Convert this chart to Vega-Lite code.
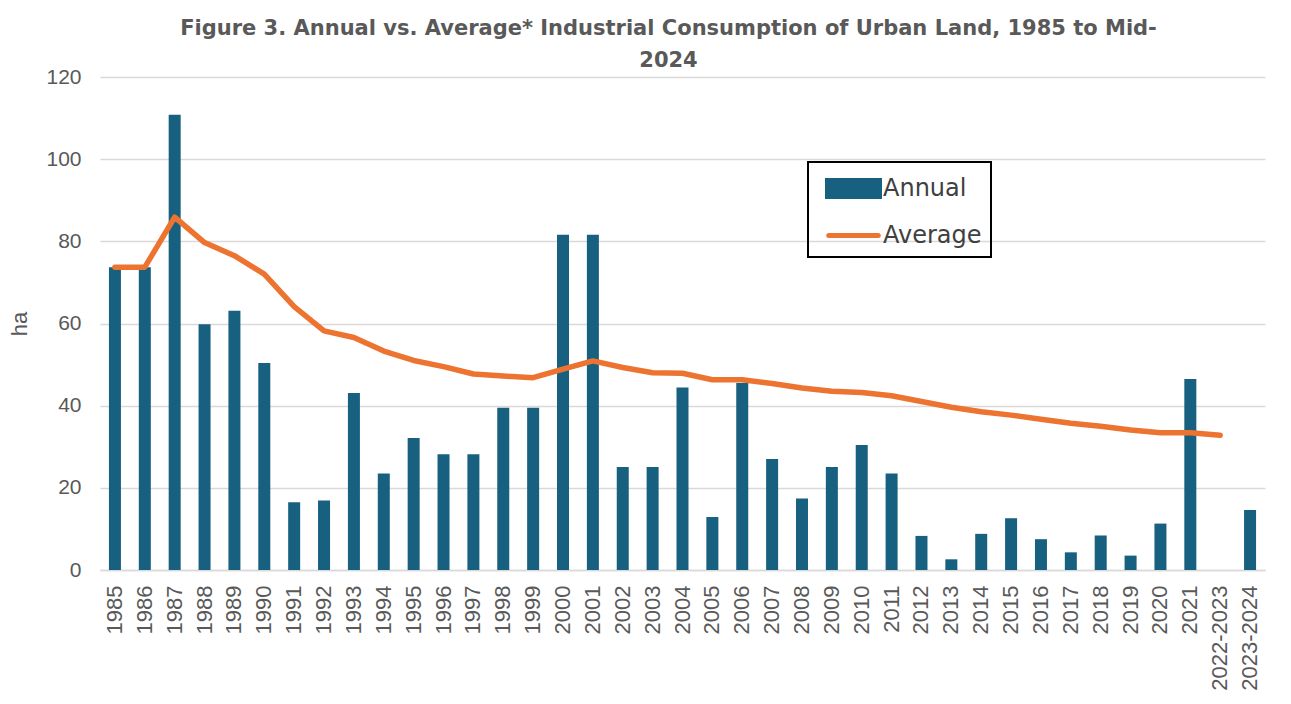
{
  "$schema": "https://vega.github.io/schema/vega-lite/v6.json",
  "width": 1165,
  "height": 493,
  "autosize": {"type": "none"},
  "padding": {"left": 100, "top": 77, "right": 26, "bottom": 134},
  "background": "white",
  "title": {
    "text": ["Figure 3. Annual vs. Average* Industrial Consumption of Urban Land, 1985 to Mid-", "2024"],
    "font": "DejaVu Sans",
    "fontSize": 21,
    "fontWeight": "bold",
    "color": "#595959",
    "anchor": "middle",
    "dx": -14,
    "offset": -5,
    "lineHeight": 32
  },
  "data": {
    "values": [
      {"year": "1985", "annual": 73.7, "average": 73.7},
      {"year": "1986", "annual": 73.7, "average": 73.7},
      {"year": "1987", "annual": 110.8, "average": 85.9},
      {"year": "1988", "annual": 59.8, "average": 79.7},
      {"year": "1989", "annual": 63.1, "average": 76.5},
      {"year": "1990", "annual": 50.4, "average": 72.0},
      {"year": "1991", "annual": 16.5, "average": 64.1},
      {"year": "1992", "annual": 16.9, "average": 58.2},
      {"year": "1993", "annual": 43.1, "average": 56.6},
      {"year": "1994", "annual": 23.5, "average": 53.3},
      {"year": "1995", "annual": 32.1, "average": 51.0},
      {"year": "1996", "annual": 28.2, "average": 49.5},
      {"year": "1997", "annual": 28.2, "average": 47.7},
      {"year": "1998", "annual": 39.5, "average": 47.2},
      {"year": "1999", "annual": 39.5, "average": 46.8},
      {"year": "2000", "annual": 81.6, "average": 48.9},
      {"year": "2001", "annual": 81.6, "average": 50.9},
      {"year": "2002", "annual": 25.1, "average": 49.3},
      {"year": "2003", "annual": 25.1, "average": 48.0},
      {"year": "2004", "annual": 44.4, "average": 47.9},
      {"year": "2005", "annual": 12.9, "average": 46.3},
      {"year": "2006", "annual": 45.5, "average": 46.3},
      {"year": "2007", "annual": 27.0, "average": 45.4},
      {"year": "2008", "annual": 17.4, "average": 44.3},
      {"year": "2009", "annual": 25.1, "average": 43.5},
      {"year": "2010", "annual": 30.4, "average": 43.2},
      {"year": "2011", "annual": 23.5, "average": 42.4},
      {"year": "2012", "annual": 8.3, "average": 41.0},
      {"year": "2013", "annual": 2.6, "average": 39.6},
      {"year": "2014", "annual": 8.8, "average": 38.5},
      {"year": "2015", "annual": 12.6, "average": 37.7},
      {"year": "2016", "annual": 7.5, "average": 36.7},
      {"year": "2017", "annual": 4.3, "average": 35.7},
      {"year": "2018", "annual": 8.4, "average": 35.0},
      {"year": "2019", "annual": 3.5, "average": 34.1},
      {"year": "2020", "annual": 11.3, "average": 33.4},
      {"year": "2021", "annual": 46.5, "average": 33.4},
      {"year": "2022-2023", "annual": null, "average": 32.8},
      {"year": "2023-2024", "annual": 14.6, "average": null}
    ]
  },
  "encoding": {
    "x": {
      "field": "year",
      "type": "nominal",
      "sort": null,
      "scale": {
        "domain": ["1985", "1986", "1987", "1988", "1989", "1990", "1991", "1992", "1993", "1994", "1995", "1996", "1997", "1998", "1999", "2000", "2001", "2002", "2003", "2004", "2005", "2006", "2007", "2008", "2009", "2010", "2011", "2012", "2013", "2014", "2015", "2016", "2017", "2018", "2019", "2020", "2021", "2022-2023", "2023-2024"],
        "paddingInner": 0.6,
        "paddingOuter": 0.3
      },
      "axis": {
        "title": null,
        "labelAngle": -90,
        "labelAlign": "right",
        "labelBaseline": "middle",
        "labelFont": "Liberation Sans",
        "labelFontSize": 22,
        "labelColor": "#595959",
        "labelPadding": 15,
        "labelOverlap": false,
        "ticks": false,
        "domain": true,
        "domainColor": "#d9d9d9",
        "domainWidth": 1.5
      }
    }
  },
  "layer": [
    {
      "mark": {"type": "bar", "size": 12, "color": "#17607f"},
      "encoding": {
        "y": {
          "field": "annual",
          "type": "quantitative",
          "scale": {"domain": [0, 120]},
          "axis": {
            "title": "ha",
            "titleFont": "Liberation Sans",
            "titleFontSize": 22,
            "titleFontWeight": "normal",
            "titleColor": "#595959",
            "titlePadding": 14,
            "values": [0, 20, 40, 60, 80, 100, 120],
            "labelFont": "Liberation Sans",
            "labelFontSize": 21,
            "labelColor": "#595959",
            "labelPadding": 19,
            "ticks": false,
            "domain": false,
            "grid": true,
            "gridColor": "#d9d9d9",
            "gridWidth": 1.5
          }
        },
        "color": {
          "datum": "Annual",
          "type": "nominal",
          "scale": {"domain": ["Annual", "Average"], "range": ["#17607f", "#ed7330"]},
          "legend": {
            "title": null,
            "orient": "none",
            "legendX": 708,
            "legendY": 85,
            "strokeColor": "black",
            "padding": 9,
            "labelFont": "DejaVu Sans",
            "labelFontSize": 24,
            "labelColor": "#404040",
            "labelOffset": 12,
            "symbolOffset": 19,
            "rowPadding": 11,
            "symbolSize": 900,
            "symbolStrokeWidth": 5,
            "encode": {
              "legend": {"update": {"strokeWidth": {"value": 2}}},
              "symbols": {
                "update": {
                  "shape": [
                    {"test": "datum.value === 'Annual'", "value": "M-1.733,-0.533H1.733V0.533H-1.733Z"},
                    {"value": "M-1.65,0H1.65"}
                  ],
                  "fill": [
                    {"test": "datum.value === 'Annual'", "value": "#17607f"},
                    {"value": "transparent"}
                  ],
                  "stroke": [
                    {"test": "datum.value === 'Annual'", "value": "transparent"},
                    {"value": "#ed7330"}
                  ],
                  "strokeCap": {"value": "round"},
                  "opacity": {"value": 1}
                }
              }
            }
          }
        }
      }
    },
    {
      "mark": {"type": "line", "strokeWidth": 5.5, "strokeCap": "round", "strokeJoin": "round"},
      "encoding": {
        "y": {"field": "average", "type": "quantitative"},
        "color": {"datum": "Average", "type": "nominal"}
      }
    }
  ],
  "config": {"view": {"stroke": null}}
}
